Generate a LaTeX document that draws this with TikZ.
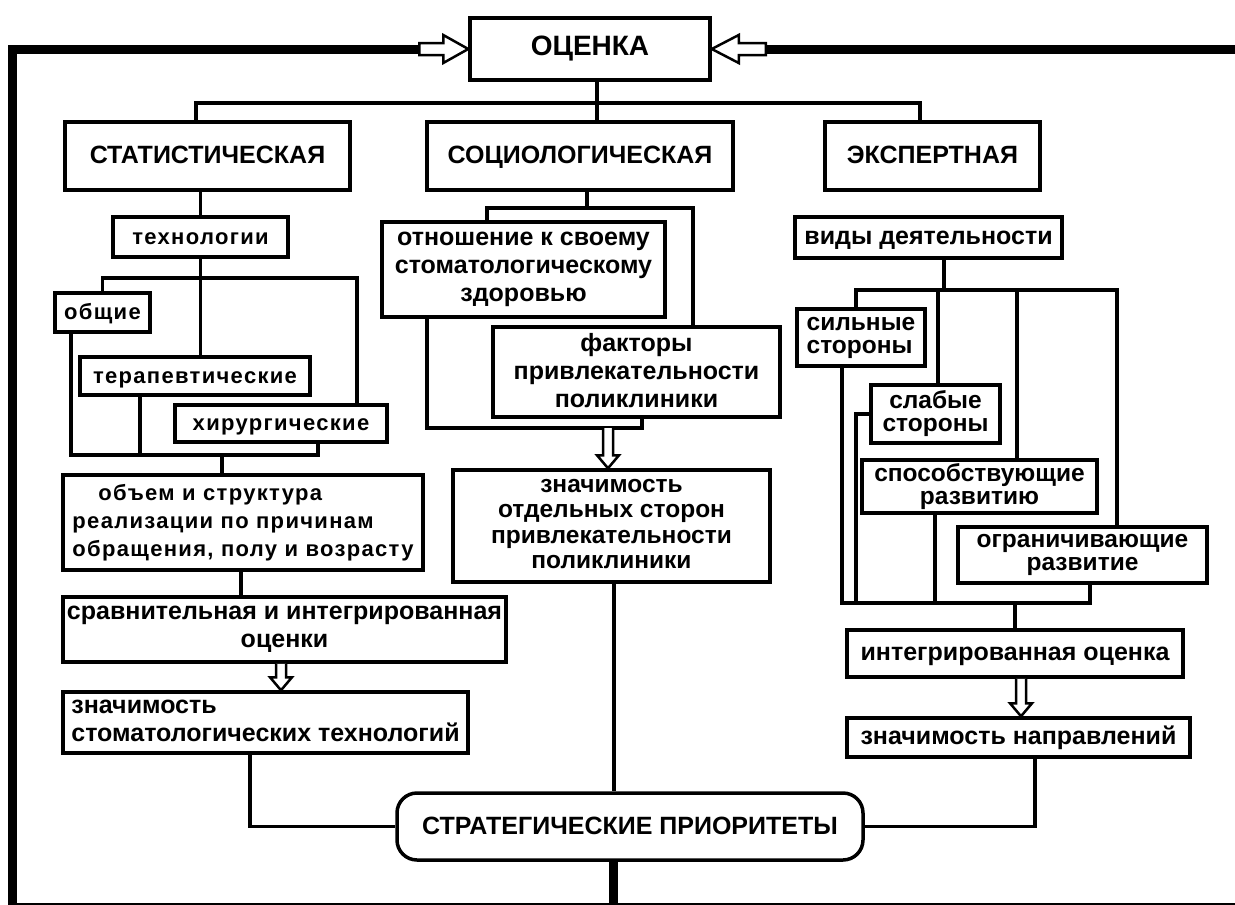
\documentclass[tikz,border=0pt]{standalone}
\usepackage{fontspec}
\setmainfont{Liberation Sans}
\newfontfamily\spfont{Liberation Sans}[LetterSpace=6]
\usetikzlibrary{calc}
\newcommand\mystrut{\vrule height 19pt depth 4pt width 0pt}
\tikzset{
  box/.style={draw, line width=3.5pt, inner sep=1pt, align=center, fill=white,
    font=\bfseries\fontsize{25}{28}\selectfont,
    execute at begin node=\mystrut, execute at end node=\mystrut},
  sp/.style={font=\spfont\bfseries\fontsize{22}{28}\selectfont},
  tight/.style={font=\bfseries\fontsize{24.5}{23}\selectfont},
  fourl/.style={font=\bfseries\fontsize{24.5}{25.5}\selectfont},
  caps/.style={font=\bfseries\fontsize{25}{28}\selectfont},
  bigcaps/.style={font=\bfseries\fontsize{28}{30}\selectfont},
  conn/.style={line width=3.5pt, line join=miter},
  fb/.style={line width=9pt, line join=miter},
  hollow/.style={draw, line width=2.5pt, fill=white, line join=miter}
}
\newcommand\cbox[7][]{\node[box,minimum width={(#5-#3)*1pt},minimum height={(#6-#4)*1pt},#1] (#2) at ({(#3+#5)/2},{(#4+#6)/2}) {#7};}
\newcommand\hdown[3]{%
  \draw[hollow] let \p1=(#2.north), \p2=#1, \p3=(#3,0) in
   (\x3-5pt,\y2) -- (\x3-5pt,\y1+13pt) -- (\x3-11pt,\y1+13pt) -- (\x3,\y1)
   -- (\x3+11pt,\y1+13pt) -- (\x3+5pt,\y1+13pt) -- (\x3+5pt,\y2);}
\begin{document}
\begin{tikzpicture}[x=1pt,y=-1pt]
\useasboundingbox (0,0) rectangle (1235,905);

% ---------- level 0 / 1
\cbox[bigcaps]{ocenka}{470}{18}{710}{80}{ОЦЕНКА}
\cbox[caps]{stat}{65}{122}{350}{190}{СТАТИСТИЧЕСКАЯ}
\cbox[caps]{soc}{427}{122}{733}{190}{СОЦИОЛОГИЧЕСКАЯ}
\cbox[caps]{exp}{825}{122}{1040}{190}{ЭКСПЕРТНАЯ}

\draw[conn] (ocenka.south -| 597,0) -- (soc.north -| 597,0);
\draw[conn] (stat.north -| 196,0) -- (196,103) -- (920,103) -- (exp.north -| 920,0);

% ---------- statistical branch
\cbox[sp]{tech}{113}{217}{288}{257}{технологии}
\cbox[sp]{obsh}{55}{293}{150}{332}{общие}
\cbox[sp]{terap}{80}{357}{310}{395}{терапевтические}
\cbox[sp]{khir}{175}{405}{387}{442}{хирургические}
\cbox[sp,align=left]{ob}{63}{475}{423}{570}{\hspace*{26pt}объем и структура\\реализации по причинам\\обращения, полу и возрасту}
\cbox{sravn}{63}{597}{506}{662}{сравнительная и интегрированная\\оценки}
\cbox[align=left]{ztech}{63}{692}{468}{753}{значимость\\стоматологических технологий}

\draw[conn] (tech.north |- stat.south) -- (tech.north);
\draw[conn] (tech.south) -- (tech.south |- terap.north);
\draw[conn] (obsh.north) |- (357,278) -- (khir.north -| 357,0);
\draw[conn] (obsh.south -| 71,0) -- (71,455) -- (318,455) -- (khir.south -| 318,0);
\draw[conn] (terap.south -| 140,0) -- (140,455);
\draw[conn] (ob.north -| 222,0) -- (222,455);
\draw[conn] (ob.south -| 241,0) -- (sravn.north -| 241,0);
\hdown{(sravn.south -| 281,0)}{ztech}{281}

% ---------- sociological branch
\cbox{otn}{382}{222}{665}{317}{отношение к своему\\стоматологическому\\здоровью}
\cbox{fakt}{493}{327}{780}{417}{факторы\\привлекательности\\поликлиники}
\cbox[fourl]{zsoc}{453}{470}{770}{582}{значимость\\отдельных сторон\\привлекательности\\поликлиники}

\draw[conn] (soc.south -| 587,0) -- (587,208);
\draw[conn] (otn.north -| 487,0) |- (693,208) -- (fakt.north -| 693,0);
\draw[conn] (otn.south -| 427,0) |- (642,428) -- (fakt.south -| 642,0);
\hdown{(608,428)}{zsoc}{608}

% ---------- expert branch
\cbox{vid}{795}{217}{1062}{258}{виды деятельности}
\cbox[tight,align=left]{sil}{797}{309}{925}{366}{сильные\\стороны}
\cbox[tight]{slab}{871}{385}{1000}{443}{слабые\\стороны}
\cbox[tight]{sposob}{862}{460}{1097}{513}{способствующие\\развитию}
\cbox[tight]{ogr}{958}{527}{1207}{583}{ограничивающие\\развитие}
\cbox{integ}{847}{630}{1183}{677}{интегрированная оценка}
\cbox{napr}{847}{718}{1190}{757}{значимость направлений}

\draw[conn] (vid.south -| 944,0) -- (944,290);
\draw[conn] (sil.north -| 856,0) |- (1117,290) -- (ogr.north -| 1117,0);
\draw[conn] (slab.north -| 938,0) -- (938,290);
\draw[conn] (sposob.north -| 1017,0) -- (1017,290);
\draw[conn] (sil.south -| 842,0) |- (1090,603) -- (ogr.south -| 1090,0);
\draw[conn] (slab.west |- 0,414) -| (856,603);
\draw[conn] (sposob.south -| 935,0) -- (935,603);
\draw[conn] (integ.north |- 0,603) -- (integ.north);
\hdown{(integ.south -| 1021,0)}{napr}{1021}

% ---------- strategic priorities
\cbox[caps,rounded corners=20pt]{strat}{397}{793}{863}{860}{СТРАТЕГИЧЕСКИЕ ПРИОРИТЕТЫ}
\draw[conn] (ztech.south -| 250,0) |- (strat.west);
\draw[conn] (zsoc.south -| 614,0) -- (strat.north -| 614,0);
\draw[conn] (napr.south -| 1035,0) |- (strat.east);

% ---------- feedback loop
\coordinate (Ltail) at ([xshift=-49pt]ocenka.west);
\coordinate (Rtail) at ([xshift=54pt]ocenka.east);
\draw[fb] (strat.south -| 613,0) -- (613,907.5) -| (12.5,49) -- (Ltail);
\draw[fb] (613,907.5) -| (1245,49) -- (Rtail);
\draw[hollow] (ocenka.west) -- ++(-25,-14) -- ++(0,8) -- ++(-24,0) -- ++(0,12) -- ++(24,0) -- ++(0,8) -- cycle;
\draw[hollow] (ocenka.east) -- ++(27,-14) -- ++(0,8) -- ++(27,0) -- ++(0,12) -- ++(-27,0) -- ++(0,8) -- cycle;
\end{tikzpicture}
\end{document}
